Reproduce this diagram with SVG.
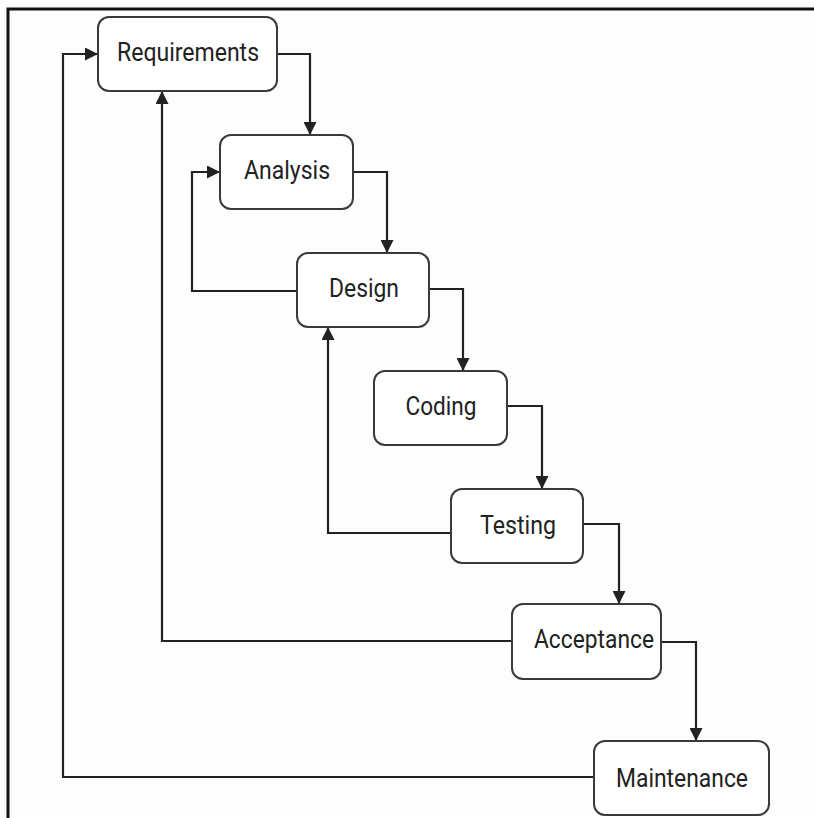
<svg xmlns="http://www.w3.org/2000/svg" width="814" height="818" viewBox="0 0 814 818">
<style>
.box{fill:#ffffff;stroke:#3a3a3a;stroke-width:2}
.lbl{font-family:"Roboto","Liberation Sans",sans-serif;font-size:26px;font-weight:400;fill:#222;text-anchor:middle}
.c{fill:none;stroke:#222;stroke-width:2.2}
</style>
<defs>
<marker id="ah" markerUnits="userSpaceOnUse" markerWidth="13" markerHeight="13" viewBox="0 0 13 13" refX="13" refY="6.5" orient="auto">
<path d="M0,0 L13,6.5 L0,13 Z" fill="#222"/>
</marker>
</defs>
<rect width="814" height="818" fill="#fdfdfd"/>
<path d="M8,818 V9 H814" fill="none" stroke="#111" stroke-width="3"/>
<g id="connectors">
<path class="c" d="M277,54 H310 V135" marker-end="url(#ah)"/>
<path class="c" d="M353,172 H387 V253" marker-end="url(#ah)"/>
<path class="c" d="M429,289 H463 V371" marker-end="url(#ah)"/>
<path class="c" d="M507,406 H542 V489" marker-end="url(#ah)"/>
<path class="c" d="M583,524 H619 V604" marker-end="url(#ah)"/>
<path class="c" d="M661,642 H696 V741" marker-end="url(#ah)"/>
<path class="c" d="M297,291 H192 V172 H220" marker-end="url(#ah)"/>
<path class="c" d="M451,533 H328 V327" marker-end="url(#ah)"/>
<path class="c" d="M512,641 H162 V91" marker-end="url(#ah)"/>
<path class="c" d="M594,777 H63 V54 H98" marker-end="url(#ah)"/>
</g>
<g id="requirements">
<rect class="box" x="98" y="17" width="179" height="74" rx="11"/>
<text class="lbl" x="188" y="61" textLength="142" lengthAdjust="spacingAndGlyphs">Requirements</text>
</g>
<g id="analysis">
<rect class="box" x="220" y="135" width="133" height="74" rx="11"/>
<text class="lbl" x="287" y="179" textLength="86" lengthAdjust="spacingAndGlyphs">Analysis</text>
</g>
<g id="design">
<rect class="box" x="297" y="253" width="132" height="74" rx="11"/>
<text class="lbl" x="364" y="297" textLength="70" lengthAdjust="spacingAndGlyphs">Design</text>
</g>
<g id="coding">
<rect class="box" x="374" y="371" width="133" height="74" rx="11"/>
<text class="lbl" x="441" y="415" textLength="71" lengthAdjust="spacingAndGlyphs">Coding</text>
</g>
<g id="testing">
<rect class="box" x="451" y="489" width="132" height="74" rx="11"/>
<text class="lbl" x="518" y="534" textLength="76" lengthAdjust="spacingAndGlyphs">Testing</text>
</g>
<g id="acceptance">
<rect class="box" x="512" y="604" width="149" height="75" rx="11"/>
<text class="lbl" x="594" y="648" textLength="120" lengthAdjust="spacingAndGlyphs">Acceptance</text>
</g>
<g id="maintenance">
<rect class="box" x="594" y="741" width="175" height="74" rx="11"/>
<text class="lbl" x="682" y="787" textLength="132" lengthAdjust="spacingAndGlyphs">Maintenance</text>
</g>
</svg>
